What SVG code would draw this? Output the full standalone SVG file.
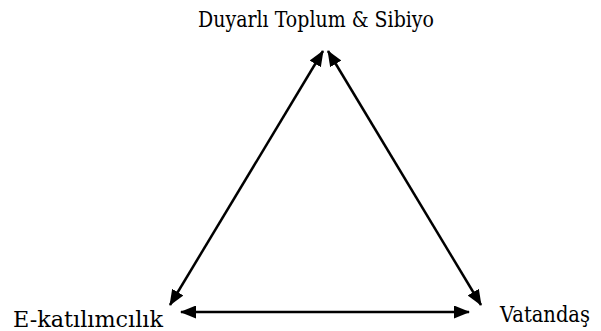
<svg xmlns="http://www.w3.org/2000/svg" width="601" height="331" viewBox="0 0 601 331">
<style>
.c{stroke:#000;stroke-width:2.5;fill:none}
</style>
<defs>
<marker id="ah" viewBox="0 0 16 13" refX="15" refY="6.5" markerWidth="16" markerHeight="13" markerUnits="userSpaceOnUse" orient="auto-start-reverse">
<path d="M0,0 L16,6.5 L0,13 Z" fill="#000"/>
</marker>
</defs>
<rect width="601" height="331" fill="#fff"/>
<g id="connectors">
<line class="c" marker-start="url(#ah)" marker-end="url(#ah)" x1="323" y1="51" x2="170" y2="305"/>
<line class="c" marker-start="url(#ah)" marker-end="url(#ah)" x1="328" y1="51" x2="481" y2="305"/>
<line class="c" marker-start="url(#ah)" marker-end="url(#ah)" x1="181" y1="312" x2="469" y2="312"/>
</g>
<g id="node-top"><text style="font-family:'DejaVu Serif',serif;font-size:23px;fill:#000" x="198" y="27" textLength="236" lengthAdjust="spacingAndGlyphs">Duyarlı Toplum &amp; Sibiyo</text></g>
<g id="node-left"><text style="font-family:'DejaVu Serif',serif;font-size:22px;fill:#000" x="13" y="327" textLength="150" lengthAdjust="spacingAndGlyphs">E-katılımcılık</text></g>
<g id="node-right"><text style="font-family:'DejaVu Serif',serif;font-size:22px;fill:#000" x="500" y="322" textLength="90" lengthAdjust="spacingAndGlyphs">Vatandaş</text></g>
</svg>
